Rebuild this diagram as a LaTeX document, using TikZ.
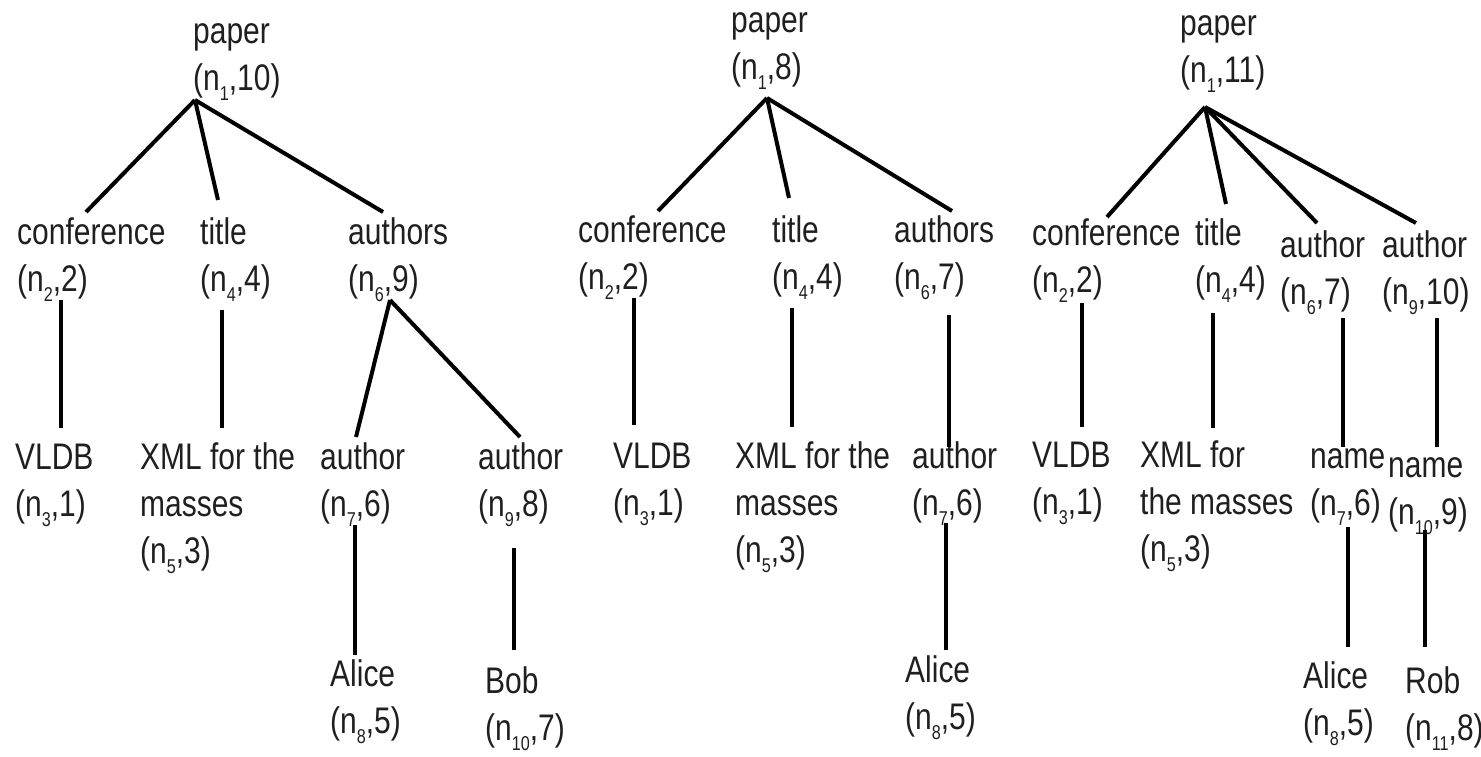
\documentclass[tikz,border=0pt]{standalone}
\usepackage{fontspec}
\setmainfont{Liberation Sans}[FakeStretch=0.81]
\newcommand\nsub[1]{\raisebox{-10pt}{\fontsize{20}{20}\selectfont #1}}
\newcommand\nn[2]{(n\nsub{#1},#2)}
\tikzset{
  lbl/.style={font=\fontsize{37}{47}\selectfont, text=black!88, align=left, inner sep=0pt, anchor=north west},
  edgeline/.style={line width=4pt, black}
}
\begin{document}
\begin{tikzpicture}[x=1pt,y=-1pt]
\useasboundingbox (0,0) rectangle (1481,756);
% ---------- tree 1 ----------
\node[lbl] (p1) at (193,10) {\strut paper\\\nn{1}{10}};
\node[lbl] (c1) at (17,211) {\strut conference\\\nn{2}{2}};
\node[lbl] (t1) at (200,211) {\strut title\\\nn{4}{4}};
\node[lbl] (a1) at (348,211) {\strut authors\\\nn{6}{9}};
\node[lbl] (v1) at (15,436) {\strut VLDB\\\nn{3}{1}};
\node[lbl] (x1) at (140,436) {\strut XML for the\\masses\\\nn{5}{3}};
\node[lbl] (u1) at (320,436) {\strut author\\\nn{7}{6}};
\node[lbl] (w1) at (478,436) {\strut author\\\nn{9}{8}};
\node[lbl] (al1) at (330,653) {\strut Alice\\\nn{8}{5}};
\node[lbl] (bo1) at (485,660) {\strut Bob\\\nn{10}{7}};
\coordinate (p1b) at (195,100);
\coordinate (c1t) at (86,212);   \coordinate (c1b) at (61,300);
\coordinate (t1t) at (218,200);  \coordinate (t1b) at (222,310);
\coordinate (a1t) at (383,212);  \coordinate (a1b) at (390,300);
\coordinate (v1t) at (61,428);   \coordinate (x1t) at (222,428);
\coordinate (u1t) at (356,437);  \coordinate (u1b) at (355,525);
\coordinate (w1t) at (520,437);  \coordinate (w1b) at (514,548);
\coordinate (al1t) at (355,655); \coordinate (bo1t) at (514,650);
\draw[edgeline] (p1b) -- (c1t);
\draw[edgeline] (p1b) -- (t1t);
\draw[edgeline] (p1b) -- (a1t);
\draw[edgeline] (c1b) -- (v1t);
\draw[edgeline] (t1b) -- (x1t);
\draw[edgeline] (a1b) -- (u1t);
\draw[edgeline] (a1b) -- (w1t);
\draw[edgeline] (u1b) -- (al1t);
\draw[edgeline] (w1b) -- (bo1t);
% ---------- tree 2 ----------
\node[lbl] (p2) at (731,-1) {\strut paper\\\nn{1}{8}};
\node[lbl] (c2) at (578,209) {\strut conference\\\nn{2}{2}};
\node[lbl] (t2) at (772,209) {\strut title\\\nn{4}{4}};
\node[lbl] (a2) at (894,209) {\strut authors\\\nn{6}{7}};
\node[lbl] (v2) at (613,435) {\strut VLDB\\\nn{3}{1}};
\node[lbl] (x2) at (735,435) {\strut XML for the\\masses\\\nn{5}{3}};
\node[lbl] (u2) at (912,435) {\strut author\\\nn{7}{6}};
\node[lbl] (al2) at (905,649) {\strut Alice\\\nn{8}{5}};
\coordinate (p2b) at (767,98);
\coordinate (c2t) at (658,211);  \coordinate (c2b) at (634,298);
\coordinate (t2t) at (789,198);  \coordinate (t2b) at (792,308);
\coordinate (a2t) at (952,211);  \coordinate (a2b) at (949,315);
\coordinate (v2t) at (634,425);  \coordinate (x2t) at (792,427);
\coordinate (u2t) at (949,447);  \coordinate (u2b) at (946,523);
\coordinate (al2t) at (946,650);
\draw[edgeline] (p2b) -- (c2t);
\draw[edgeline] (p2b) -- (t2t);
\draw[edgeline] (p2b) -- (a2t);
\draw[edgeline] (c2b) -- (v2t);
\draw[edgeline] (t2b) -- (x2t);
\draw[edgeline] (a2b) -- (u2t);
\draw[edgeline] (u2b) -- (al2t);
% ---------- tree 3 ----------
\node[lbl] (p3) at (1180,2) {\strut paper\\\nn{1}{11}};
\node[lbl] (c3) at (1032,212) {\strut conference\\\nn{2}{2}};
\node[lbl] (t3) at (1195,212) {\strut title\\\nn{4}{4}};
\node[lbl] (a3) at (1280,224) {\strut author\\\nn{6}{7}};
\node[lbl] (b3) at (1382,224) {\strut author\\\nn{9}{10}};
\node[lbl] (v3) at (1032,434) {\strut VLDB\\\nn{3}{1}};
\node[lbl] (x3) at (1140,434) {\strut XML for\\the masses\\\nn{5}{3}};
\node[lbl] (m3) at (1310,435) {\strut name\\\nn{7}{6}};
\node[lbl] (n3) at (1388,444) {\strut name\\\nn{10}{9}};
\node[lbl] (al3) at (1303,655) {\strut Alice\\\nn{8}{5}};
\node[lbl] (ro3) at (1405,660) {\strut Rob\\\nn{11}{8}};
\coordinate (p3b) at (1205,107);
\coordinate (c3t) at (1107,217);  \coordinate (c3b) at (1082,303);
\coordinate (t3t) at (1226,204);  \coordinate (t3b) at (1213,313);
\coordinate (a3t) at (1317,223);  \coordinate (a3b) at (1343,318);
\coordinate (b3t) at (1416,223);  \coordinate (b3b) at (1437,318);
\coordinate (v3t) at (1082,427);  \coordinate (x3t) at (1213,428);
\coordinate (m3t) at (1343,447);  \coordinate (m3b) at (1348,527);
\coordinate (n3t) at (1437,447);  \coordinate (n3b) at (1425,530);
\coordinate (al3t) at (1348,647); \coordinate (ro3t) at (1425,647);
\draw[edgeline] (p3b) -- (c3t);
\draw[edgeline] (p3b) -- (t3t);
\draw[edgeline] (p3b) -- (a3t);
\draw[edgeline] (p3b) -- (b3t);
\draw[edgeline] (c3b) -- (v3t);
\draw[edgeline] (t3b) -- (x3t);
\draw[edgeline] (a3b) -- (m3t);
\draw[edgeline] (b3b) -- (n3t);
\draw[edgeline] (m3b) -- (al3t);
\draw[edgeline] (n3b) -- (ro3t);
\end{tikzpicture}
\end{document}
